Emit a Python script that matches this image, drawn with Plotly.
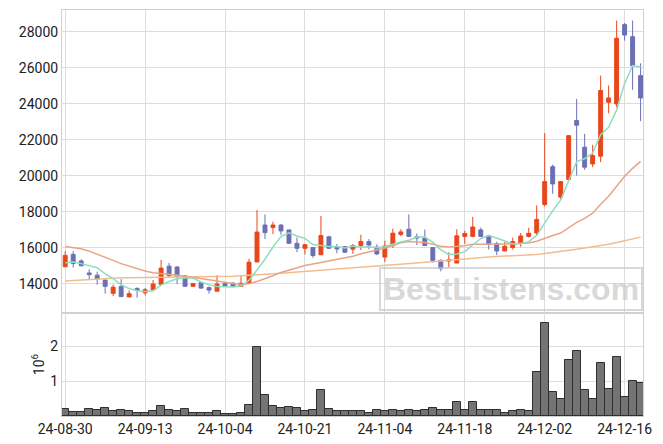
import plotly.graph_objects as go
from plotly.subplots import make_subplots

tick_labels = ["24-08-30", "24-09-13", "24-10-04", "24-10-21", "24-11-04", "24-11-18", "24-12-02", "24-12-16"]
tick_index = [0, 10, 20, 30, 40, 50, 60, 70]

open_ = [14956, 15640, 15280, 14610, 14490, 14220, 13480, 13860, 13280, 13750,
         13510, 13680, 13980, 14990, 14940, 14450, 13870, 14070, 13800, 13600,
         14020, 14050, 13870, 14040, 15220, 17270, 17130, 17270, 17000, 16255,
         15980, 16020, 15620, 16620, 16020, 16070, 15930, 16130, 16350, 16040,
         15490, 16130, 16750, 17040, 16620, 16550, 16020, 15310, 15270, 15160,
         16640, 16640, 17000, 16620, 16240, 15830, 16020, 16280, 16640, 16830,
         18410, 20510, 18820, 19800, 23070, 21590, 20660, 21090, 24080, 23990,
         28390, 27720, 25560]
high = [15820, 15820, 15370, 14810, 14680, 14220, 13960, 14270, 13640, 13820,
        13780, 14220, 15340, 15170, 14990, 14450, 14060, 14100, 13860, 14490,
        14050, 14080, 14500, 15400, 18100, 17860, 17455, 17310, 17000, 16580,
        16200, 16020, 17770, 16670, 16220, 16110, 16220, 16730, 16490, 16200,
        16400, 17070, 17040, 17860, 16800, 17020, 16020, 15360, 15760, 17040,
        16950, 17730, 17130, 16620, 16350, 16330, 16570, 16830, 17120, 18360,
        22370, 20620, 19680, 22230, 24270, 22330, 21720, 25560, 25010, 28610,
        28480, 28610, 26240]
low = [14956, 14920, 14990, 14270, 13960, 13460, 13330, 13300, 13280, 13240,
       13370, 13680, 13960, 14330, 14000, 13870, 13830, 13730, 13460, 13600,
       13870, 13870, 13870, 14040, 15220, 16490, 16765, 16730, 16220, 15760,
       15640, 15450, 15620, 15945, 15710, 15730, 15670, 15890, 15930, 15600,
       15220, 16000, 16650, 16600, 16160, 16100, 15180, 14700, 14940, 15160,
       16220, 16600, 16600, 15910, 15600, 15830, 15910, 16060, 16580, 16700,
       18300, 19000, 18700, 19800, 20020, 20330, 20480, 20760, 23470, 23800,
       27500, 24770, 23030]
close = [15586, 15135, 15010, 14520, 14270, 13870, 13820, 13300, 13460, 13660,
         13680, 14000, 14880, 14470, 14430, 13870, 14020, 13770, 13660, 14000,
         13870, 13870, 14040, 15210, 16880, 16850, 17270, 16945, 16255, 15980,
         16180, 15580, 16690, 15980, 15945, 15760, 16130, 16350, 16160, 15670,
         16110, 16820, 16890, 16640, 16550, 16130, 15310, 14850, 15340, 16670,
         16800, 17160, 16640, 16220, 15830, 16090, 16350, 16660, 16810, 17580,
         19680, 19550, 19680, 22230, 22810, 20480, 21130, 24730, 24320, 27630,
         27810, 26110, 24320]

ma5 = [15180, 15220, 15130, 15000, 14904, 14561, 14298, 13956, 13744, 13622,
       13584, 13620, 13936, 14138, 14292, 14330, 14334, 14112, 13950, 13864,
       13864, 13834, 13888, 14198, 14774, 15370, 16050, 16631, 16840, 16660,
       16526, 16188, 16137, 16082, 16075, 15991, 16101, 16033, 16069, 16014,
       16084, 16222, 16330, 16426, 16602, 16606, 16304, 15896, 15636, 15660,
       15794, 16164, 16522, 16698, 16530, 16388, 16226, 16230, 16348, 16698,
       17416, 18056, 18660, 19744, 20790, 20950, 21266, 22276, 22694, 23658,
       25124, 26120, 26038]
ma20 = [16080, 16020, 15950, 15820, 15660, 15490, 15310, 15130, 14990, 14860,
        14720, 14620, 14560, 14520, 14480, 14430, 14380, 14320, 14240, 14171,
        14085, 14022, 13973, 14008, 14138, 14287, 14460, 14642, 14782, 14898,
        15023, 15102, 15192, 15268, 15343, 15438, 15543, 15672, 15797, 15881,
        15993, 16140, 16283, 16354, 16338, 16302, 16204, 16099, 16053, 16088,
        16119, 16198, 16195, 16207, 16202, 16218, 16229, 16245, 16277, 16373,
        16551, 16688, 16827, 17107, 17420, 17637, 17928, 18422, 18871, 19419,
        19970, 20417, 20801]
ma60 = [14170, 14200, 14230, 14250, 14280, 14300, 14320, 14340, 14350, 14355,
        14360, 14360, 14360, 14360, 14360, 14360, 14370, 14380, 14390, 14400,
        14410, 14430, 14450, 14470, 14500, 14530, 14570, 14600, 14630, 14660,
        14690, 14720, 14750, 14780, 14810, 14850, 14880, 14920, 14950, 14990,
        15020, 15060, 15100, 15140, 15180, 15220, 15260, 15300, 15340, 15380,
        15420, 15450, 15480, 15500, 15520, 15540, 15560, 15590, 15610, 15640,
        15690, 15740, 15800, 15870, 15930, 15990, 16050, 16130, 16210, 16300,
        16400, 16500, 16600]

# volume in millions of shares
volume = [0.21, 0.12, 0.12, 0.19, 0.16, 0.22, 0.13, 0.16, 0.13, 0.09,
          0.09, 0.13, 0.30, 0.16, 0.13, 0.19, 0.10, 0.10, 0.10, 0.13,
          0.07, 0.07, 0.10, 0.33, 1.97, 0.60, 0.30, 0.22, 0.25, 0.22,
          0.13, 0.16, 0.75, 0.19, 0.13, 0.13, 0.13, 0.13, 0.10, 0.16,
          0.13, 0.18, 0.13, 0.18, 0.13, 0.16, 0.24, 0.18, 0.16, 0.39,
          0.18, 0.39, 0.16, 0.16, 0.16, 0.10, 0.13, 0.16, 0.13, 1.26,
          2.68, 0.68, 0.50, 1.61, 1.86, 0.74, 0.48, 1.52, 0.77, 1.70,
          0.56, 1.00, 0.94]

x = list(range(len(close)))

fig = make_subplots(rows=2, cols=1, shared_xaxes=True, vertical_spacing=0,
                    row_heights=[0.7463, 0.2537])

fig.add_trace(go.Candlestick(
    x=x, open=open_, high=high, low=low, close=close,
    increasing=dict(line=dict(color="#E8461B", width=1), fillcolor="#E8461B"),
    decreasing=dict(line=dict(color="#6B6FB3", width=1), fillcolor="#6B6FB3"),
    whiskerwidth=0, showlegend=False, hoverinfo="skip"), row=1, col=1)

fig.add_trace(go.Scatter(x=x, y=ma60, mode="lines", line=dict(color="#F0BD8F", width=1.5),
                         showlegend=False, hoverinfo="skip"), row=1, col=1)
fig.add_trace(go.Scatter(x=x, y=ma20, mode="lines", line=dict(color="#E9A486", width=1.5),
                         showlegend=False, hoverinfo="skip"), row=1, col=1)
fig.add_trace(go.Scatter(x=x, y=ma5, mode="lines", line=dict(color="#8FDCC0", width=1.5),
                         showlegend=False, hoverinfo="skip"), row=1, col=1)

fig.add_trace(go.Bar(x=x, y=volume, marker=dict(color="#747474", line=dict(color="#2E2E2E", width=1)),
                     showlegend=False, hoverinfo="skip"), row=2, col=1)

grid = "#DDDDDD"
font = dict(family="Roboto", size=14, color="#222222")

fig.update_layout(
    width=655, height=436,
    margin=dict(l=54, r=20, t=2, b=28, autoexpand=False),
    paper_bgcolor="white", plot_bgcolor="white",
    font=font, bargap=0, boxgap=0.3,
    xaxis_rangeslider_visible=False,
)
xr = [-0.4, 72.3]
fig.update_xaxes(range=xr, tickvals=tick_index, ticktext=tick_labels, showgrid=True,
                 gridcolor=grid, showline=True, mirror=True, linecolor="#D0D0D0",
                 zeroline=False, ticks="", tickfont=font, automargin=False)
fig.update_xaxes(showticklabels=False, row=1, col=1)
fig.update_yaxes(range=[12390, 29200], tickvals=list(range(14000, 28001, 2000)),
                 tickformat="d", showgrid=True, gridcolor=grid, showline=True, mirror=True,
                 linecolor="#D0D0D0", zeroline=False, ticks="", tickfont=font,
                 automargin=False, row=1, col=1)
fig.update_yaxes(range=[0, 2.96], tickvals=[1, 2], showgrid=True, gridcolor=grid,
                 showline=True, mirror=True, linecolor="#D0D0D0", zeroline=False, ticks="",
                 tickfont=font, automargin=False,
                 title=dict(text="10<sup>6</sup>", font=font, standoff=2),
                 row=2, col=1)

fig.add_annotation(xref="paper", yref="paper", x=0.773, y=0.313, yanchor="middle",
                   text="<b>BestListens.com</b>", showarrow=False,
                   font=dict(family="Liberation Sans", size=32, color="rgba(205,205,205,0.75)"),
                   bordercolor="rgba(200,200,200,0.7)", borderwidth=2, borderpad=2,
                   xanchor="center")

fig.write_html("out.html")
